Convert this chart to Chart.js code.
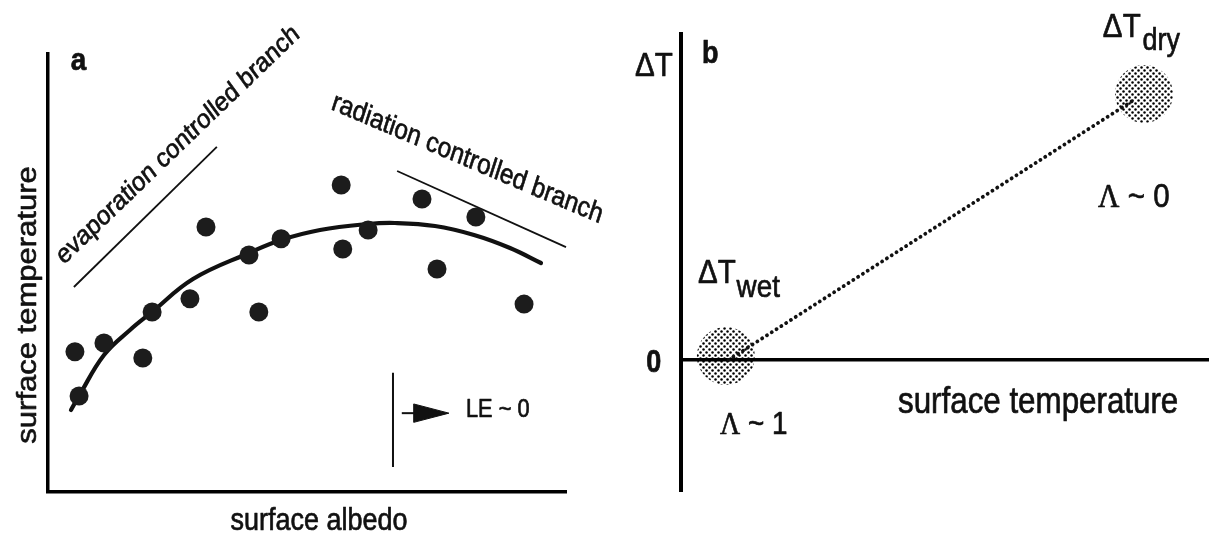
<!DOCTYPE html>
<html><head><meta charset="utf-8">
<script src="https://cdn.jsdelivr.net/npm/chart.js@4.4.1/dist/chart.umd.min.js"></script>
<style>
html,body{margin:0;padding:0;background:#fff;}
#wrap{position:relative;width:1209px;height:533px;overflow:hidden;background:#fff;}
#ca{position:absolute;left:0;top:0;}
#cb{position:absolute;left:600px;top:0;}
</style></head><body>
<div id="wrap"><canvas id="ca" width="640" height="533"></canvas><canvas id="cb" width="609" height="533"></canvas></div>
<script>
// ---------- Panel a data (surface albedo vs surface temperature, arbitrary units) ----------
const albedoX = [5.2, 10.8, 6.0, 18.3, 20.1, 27.4, 30.5, 38.8, 40.7, 45.0, 56.6, 56.9, 61.8, 72.2, 75.1, 82.6, 91.9];
const tempY   = [32.0, 34.0, 21.9, 30.6, 41.1, 44.1, 60.5, 54.1, 41.1, 57.8, 70.1, 55.5, 59.8, 66.9, 50.9, 62.8, 42.9];
const fitX = [4.44, 5.98, 10.81, 15.83, 20.08, 27.99, 38.80, 44.98, 52.51, 61.78, 66.99, 74.71, 82.24, 89.19, 95.17];
const fitY = [18.72, 21.92, 31.28, 36.99, 41.10, 48.63, 54.57, 57.53, 59.82, 61.19, 61.42, 60.73, 58.68, 55.71, 52.28];
const evapLineX = [5.0, 32.6], evapLineY = [46.8, 78.8];
const radLineX  = [67.4, 100], radLineY  = [73.3, 55.9];
const leLineX   = [66.6, 66.6], leLineY  = [27.2, 5.7];
const shaftX    = [68.3, 71.5], shaftY   = [18.0, 18.0];
const headX     = [70.6, 77.4, 70.6, 70.6], headY = [20.1, 18.0, 15.9, 20.1];
// ---------- Panel b data (surface temperature vs ΔT) ----------
const stateX = [8.5, 87.7], stateY = [1.2, 81.6];
const pathX  = [9, 86],     pathY  = [0, 80];

const pts = (xs, ys) => xs.map((x, i) => ({x, y: ys[i]}));
const SANS = '"Liberation Sans", Arial, Helvetica, sans-serif';
const SERIF = '"Liberation Serif", "Times New Roman", serif';
const SX = 0.87;

function drawText(ctx, parts, x, y, angleDeg, sx, align) {
  ctx.save();
  ctx.translate(x, y);
  ctx.scale(sx, 1);
  const th = angleDeg * Math.PI / 180;
  ctx.rotate(Math.atan2(Math.sin(th), Math.cos(th) / sx));
  let total = 0;
  parts.forEach(p => { ctx.font = p.font; p.w = ctx.measureText(p.t).width; total += p.w + (p.gap || 0); });
  let cx = align === 'center' ? -total / 2 : (align === 'right' ? -total : 0);
  ctx.textBaseline = 'alphabetic'; ctx.textAlign = 'left';
  ctx.fillStyle = '#111'; ctx.strokeStyle = '#111'; ctx.lineWidth = 0.7; ctx.lineJoin = 'round';
  parts.forEach(p => {
    ctx.font = p.font; cx += (p.gap || 0);
    ctx.fillText(p.t, cx, p.dy || 0); ctx.strokeText(p.t, cx, p.dy || 0);
    cx += p.w;
  });
  ctx.restore();
}

const textPlugin = {
  id: 'texts',
  afterDraw(chart, args, opts) {
    const ctx = chart.ctx, xs = chart.scales.x, ys = chart.scales.y;
    (opts.items || []).forEach(it => {
      drawText(ctx, it.parts, xs.getPixelForValue(it.x), ys.getPixelForValue(it.y), it.angle || 0, SX, it.align || 'left');
    });
  }
};

function axis(extra) {
  return Object.assign({
    type: 'linear', ticks: {display: false}, grid: {display: false},
    border: {display: true, width: 3.5, color: '#000'}
  }, extra);
}
const lineDs = (data, w, extra) => Object.assign({data, showLine: true, borderColor: '#111', borderWidth: w,
  pointRadius: 0, fill: false, clip: false}, extra || {});

// ---------- Chart a ----------
new Chart(document.getElementById('ca'), {
  type: 'scatter',
  data: {datasets: [
    {data: pts(albedoX, tempY), pointRadius: 9.5, pointBackgroundColor: '#1c1c1c', pointBorderWidth: 0, clip: false},
    lineDs(pts(fitX, fitY), 4.2, {tension: 0.4, borderCapStyle: 'round'}),
    lineDs(pts(evapLineX, evapLineY), 1.8),
    lineDs(pts(radLineX, radLineY), 1.8),
    lineDs(pts(leLineX, leLineY), 2),
    lineDs(pts(shaftX, shaftY), 2),
    lineDs(pts(headX, headY), 1, {fill: 'shape', backgroundColor: '#111'})
  ]},
  options: {
    responsive: false, animation: false, devicePixelRatio: 1, events: [],
    layout: {autoPadding: false, padding: {left: 48, right: 74, top: 54, bottom: 41}},
    scales: {
      x: axis({min: 0, max: 100, afterFit: s => { s.height = 0; }}),
      y: axis({min: 0, max: 100, afterFit: s => { s.width = 0; }})
    },
    plugins: {
      legend: {display: false}, tooltip: {enabled: false},
      texts: {items: [
        {x: 4.4, y: 96.3, parts: [{t: 'a', font: 'bold 32px ' + SANS}]},
        {x: 52.3, y: -8.7, align: 'center', parts: [{t: 'surface albedo', font: '31px ' + SANS}]},
        {x: -2.3, y: 42.7, angle: -90, align: 'center', parts: [{t: 'surface temperature', font: '31px ' + SANS}]},
        {x: 25.9, y: 77.9, angle: -44, align: 'center', parts: [{t: 'evaporation controlled branch', font: '27px ' + SANS}]},
        {x: 80.5, y: 74.4, angle: 23, align: 'center', parts: [{t: 'radiation controlled branch', font: '28px ' + SANS}]},
        {x: 80.7, y: 17.1, parts: [{t: 'LE ~ 0', font: '25px ' + SANS}]}
      ]}
    }
  },
  plugins: [textPlugin]
});

// ---------- Chart b ----------
const cbEl = document.getElementById('cb');
function dotPattern(target) {
  const c = document.createElement('canvas'); c.width = 6; c.height = 6;
  const g = c.getContext('2d'); g.fillStyle = '#000';
  g.beginPath(); g.arc(1.5, 1.5, 1.25, 0, 7); g.fill();
  g.beginPath(); g.arc(4.5, 4.5, 1.25, 0, 7); g.fill();
  return target.getContext('2d').createPattern(c, 'repeat');
}
new Chart(cbEl, {
  type: 'scatter',
  data: {datasets: [
    lineDs(pts(pathX, pathY), 3.8, {borderDash: [0.1, 5.6], borderCapStyle: 'round'}),
    {data: pts(stateX, stateY), pointRadius: 29, pointBackgroundColor: dotPattern(cbEl), pointBorderWidth: 0, clip: false}
  ]},
  options: {
    responsive: false, animation: false, devicePixelRatio: 1, events: [],
    layout: {autoPadding: false, padding: {left: 81, right: 0, top: 34, bottom: 42}},
    scales: {
      x: axis({min: 0, max: 100, position: {y: 0}, afterFit: s => { s.height = 0; }}),
      y: axis({min: -40.2, max: 100, border: {display: true, width: 4, color: '#000'}, afterFit: s => { s.width = 0; }})
    },
    plugins: {
      legend: {display: false}, tooltip: {enabled: false},
      texts: {items: [
        {x: -8.7, y: 87.1, parts: [{t: 'ΔT', font: '34px ' + SANS}]},
        {x: 4.0, y: 91.1, parts: [{t: 'b', font: 'bold 31px ' + SANS}]},
        {x: -6.6, y: -3.7, parts: [{t: '0', font: 'bold 31px ' + SANS}]},
        {x: 3.2, y: 23.6, parts: [{t: 'ΔT', font: '34px ' + SANS}, {t: 'wet', font: '32px ' + SANS, dy: 14, gap: 1}]},
        {x: 79.9, y: 99.1, parts: [{t: 'ΔT', font: '34px ' + SANS}, {t: 'dry', font: '31px ' + SANS, dy: 13, gap: 2}]},
        {x: 79.0, y: 46.9, parts: [{t: 'Λ', font: '34px ' + SERIF}, {t: ' ~ 0', font: '34px ' + SANS}]},
        {x: 7.4, y: -22.7, parts: [{t: 'Λ', font: '32px ' + SERIF}, {t: ' ~ 1', font: '32px ' + SANS}]},
        {x: 41.1, y: -16.3, parts: [{t: 'surface temperature', font: '36px ' + SANS}]}
      ]}
    }
  },
  plugins: [textPlugin]
});
</script>
</body></html>
